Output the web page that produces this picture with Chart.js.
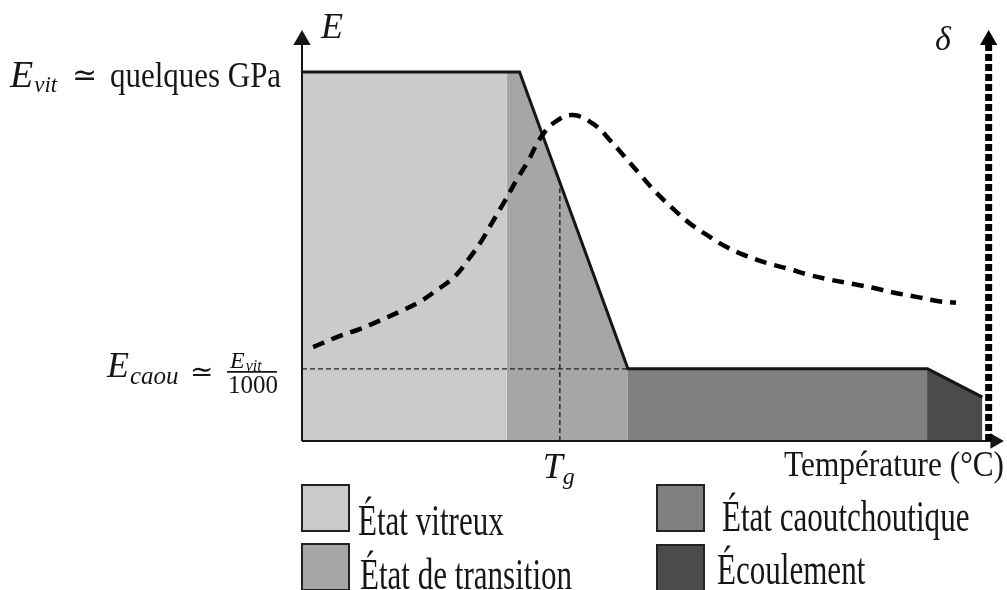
<!DOCTYPE html>
<html>
<head>
<meta charset="utf-8">
<script src="https://cdn.jsdelivr.net/npm/chart.js@4.4.1/dist/chart.umd.min.js"></script>
<style>
  html, body { margin: 0; padding: 0; background: #fff; }
  #wrap { width: 1007px; height: 590px; }
</style>
</head>
<body>
<div id="wrap"><canvas id="chart" width="1007" height="590"></canvas></div>
<script>
// ── Data (temperature and E in arbitrary 0–100 units) ──
const REGION_LABELS = ['État vitreux', 'État de transition', 'État caoutchoutique', 'Écoulement'];
const REGION_COLORS = ['#cbcbcb', '#a5a6a5', '#7f807f', '#4b4b4b'];

const E_VIT  = 90;     // plateau vitreux
const E_CAOU = 17.6;   // plateau caoutchoutique
const T_G    = 37.1;
const E_AT_TG = 63.1;

const glassT  = [0, 29.4];          const glassE  = [E_VIT, E_VIT];
const transT  = [29.4, 31.3, 46.9]; const transE  = [E_VIT, E_VIT, E_CAOU];
const rubberT = [46.9, 90.0];       const rubberE = [E_CAOU, E_CAOU];
const flowT   = [89.8, 97.9];       const flowE   = [E_CAOU, 10.7];

const modulusT = [0, 31.3, 46.9, 90.0, 97.9];
const modulusE = [E_VIT, E_VIT, E_CAOU, E_CAOU, 10.7];

// tan δ curve (dashed)
const deltaT = [1.6, 5.1, 8.3, 11.1, 14.0, 16.9, 19.4, 21.9, 24.0, 25.9, 27.4, 29.0, 30.9,
                32.6, 34.3, 36.4, 39.0, 42.1, 44.4, 46.6, 48.7, 50.9, 53.3, 55.7, 58.3,
                61.1, 64.0, 66.9, 70.0, 73.0, 76.1, 79.3, 82.3, 85.4, 88.6, 91.6, 94.1];
const deltaV = [22.9, 25.4, 27.3, 29.3, 31.5, 33.9, 36.8, 40.0, 44.4, 49.0, 53.4, 58.0, 63.7,
                68.5, 73.9, 77.8, 79.5, 77.1, 73.2, 69.0, 64.9, 60.7, 56.8, 53.2, 50.2,
                47.3, 45.1, 43.4, 42.0, 40.5, 39.3, 38.3, 37.3, 36.1, 35.1, 34.1, 33.7];

const T_DELTA_AXIS = 98.8;
const Y_AXIS_END = 97.8;
const X_AXIS_END = 99.7;

const pts = (xs, ys) => xs.map((x, i) => ({ x, y: ys[i] }));

const INK = '#161616';
const SERIF = '"Liberation Serif", "DejaVu Serif", serif';

// ── Text helper: draws (optionally condensed) text, returns right edge ──
function put(ctx, str, px, py, size, opts = {}) {
    const sx = opts.sx || 1;
    ctx.save();
    ctx.font = `${opts.italic ? 'italic ' : ''}${size}px ${SERIF}`;
    ctx.fillStyle = INK;
    ctx.textBaseline = 'alphabetic';
    ctx.textAlign = 'left';
    const w = ctx.measureText(str).width * sx;
    const left = opts.align === 'right' ? px - w : px;
    ctx.translate(left, py);
    ctx.scale(sx, 1);
    ctx.fillText(str, 0, 0);
    ctx.restore();
    return left + w;
}

const labelsPlugin = {
    id: 'labels',
    afterDraw(chart) {
        const { ctx, scales: { x, y } } = chart;

        // axis names
        put(ctx, 'E', 321, 38, 36, { italic: true });
        put(ctx, 'δ', 935, 50, 34, { italic: true });
        put(ctx, 'Température (°C)', 1004, 476, 36, { sx: 0.87, align: 'right' });

        // E_vit ≃ quelques GPa
        const yv = y.getPixelForValue(E_VIT) + 15;
        let cx = put(ctx, 'E', 10, yv, 38, { italic: true });
        put(ctx, 'vit', cx + 1, yv + 5, 23, { italic: true });
        put(ctx, '≃', 72, yv - 2, 30);
        put(ctx, 'quelques GPa', 110, yv, 36, { sx: 0.86 });

        // E_caou ≃ E_vit / 1000
        const yc = y.getPixelForValue(E_CAOU);
        cx = put(ctx, 'E', 107, yc + 8, 36, { italic: true });
        put(ctx, 'caou', cx + 1, yc + 15, 25, { italic: true });
        put(ctx, '≃', 190, yc + 12, 28);
        ctx.save();
        ctx.strokeStyle = INK;
        ctx.lineWidth = 1.6;
        ctx.beginPath();
        ctx.moveTo(227, yc + 3);
        ctx.lineTo(277, yc + 3);
        ctx.stroke();
        ctx.restore();
        cx = put(ctx, 'E', 230, yc - 1, 24, { italic: true });
        put(ctx, 'vit', cx + 1, yc + 2, 16, { italic: true });
        put(ctx, '1000', 228, yc + 24, 25);

        // T_g
        const tx = x.getPixelForValue(T_G);
        cx = put(ctx, 'T', tx - 17, 478, 36, { italic: true });
        put(ctx, 'g', cx, 484, 24, { italic: true });

        // legend (2 x 2)
        const boxX = [302, 302, 657, 657];
        const boxY = [485, 544, 485, 545];
        const txtX = [358, 360, 722, 717];
        const txtY = [535, 589, 531, 584];
        REGION_LABELS.forEach((lbl, i) => {
            ctx.save();
            ctx.fillStyle = REGION_COLORS[i];
            ctx.strokeStyle = '#222';
            ctx.lineWidth = 2;
            ctx.fillRect(boxX[i], boxY[i], 47, 46);
            ctx.strokeRect(boxX[i], boxY[i], 47, 46);
            ctx.restore();
            put(ctx, lbl, txtX[i], txtY[i], 45, { sx: 0.69 });
        });
    },
};

const regionData = [pts(glassT, glassE), pts(transT, transE), pts(rubberT, rubberE), pts(flowT, flowE)];

const datasets = [
    ...regionData.map((d, i) => ({
        label: REGION_LABELS[i],
        data: d,
        showLine: true,
        fill: 'origin',
        backgroundColor: REGION_COLORS[i],
        borderWidth: 0,
        pointRadius: 0,
        tension: 0,
        order: 10,
    })),
    {   // modulus outline
        data: pts(modulusT, modulusE),
        showLine: true,
        borderColor: INK,
        borderWidth: 3,
        pointRadius: 0,
        tension: 0,
        order: 5,
    },
    {   // E_caou guide
        data: [{ x: 0, y: E_CAOU }, { x: transT[2], y: E_CAOU }],
        showLine: true,
        borderColor: '#222',
        borderWidth: 1.4,
        borderDash: [5, 3],
        pointRadius: 0,
        order: 6,
    },
    {   // Tg guide
        data: [{ x: T_G, y: 0 }, { x: T_G, y: E_AT_TG }],
        showLine: true,
        borderColor: '#222',
        borderWidth: 1.4,
        borderDash: [5, 3],
        pointRadius: 0,
        order: 6,
    },
    {   // tan δ curve
        data: pts(deltaT, deltaV),
        showLine: true,
        borderColor: '#000',
        borderWidth: 4.5,
        borderDash: [12, 8],
        pointRadius: 0,
        tension: 0.4,
        order: 2,
    },
    {   // δ axis (dotted, with arrow)
        data: [{ x: T_DELTA_AXIS, y: 0 }, { x: T_DELTA_AXIS, y: Y_AXIS_END }],
        showLine: true,
        borderColor: '#000',
        borderWidth: 7,
        borderDash: [7, 3],
        borderCapStyle: 'butt',
        pointStyle: 'triangle',
        pointRadius: [0, 10],
        pointBackgroundColor: '#000',
        pointBorderWidth: 0,
        clip: false,
        order: 1,
    },
    {   // E axis
        data: [{ x: 0, y: 0 }, { x: 0, y: Y_AXIS_END }],
        showLine: true,
        borderColor: INK,
        borderWidth: 2,
        pointStyle: 'triangle',
        pointRadius: [0, 10],
        pointBackgroundColor: INK,
        pointBorderWidth: 0,
        clip: false,
        order: 1,
    },
    {   // temperature axis
        data: [{ x: 0, y: 0 }, { x: X_AXIS_END, y: 0 }],
        showLine: true,
        borderColor: INK,
        borderWidth: 2,
        pointStyle: 'triangle',
        pointRotation: 90,
        pointRadius: [0, 9],
        pointBackgroundColor: INK,
        pointBorderWidth: 0,
        clip: false,
        order: 1,
    },
];

new Chart(document.getElementById('chart').getContext('2d'), {
    type: 'scatter',
    data: { datasets },
    options: {
        responsive: false,
        animation: false,
        devicePixelRatio: 1,
        events: [],
        layout: { padding: { left: 302, right: 5, top: 31, bottom: 149 } },
        plugins: {
            legend: { display: false },
            tooltip: { enabled: false },
        },
        scales: {
            x: { type: 'linear', min: 0, max: 100, display: false },
            y: { type: 'linear', min: 0, max: 100, display: false },
        },
    },
    plugins: [labelsPlugin],
});
</script>
</body>
</html>
